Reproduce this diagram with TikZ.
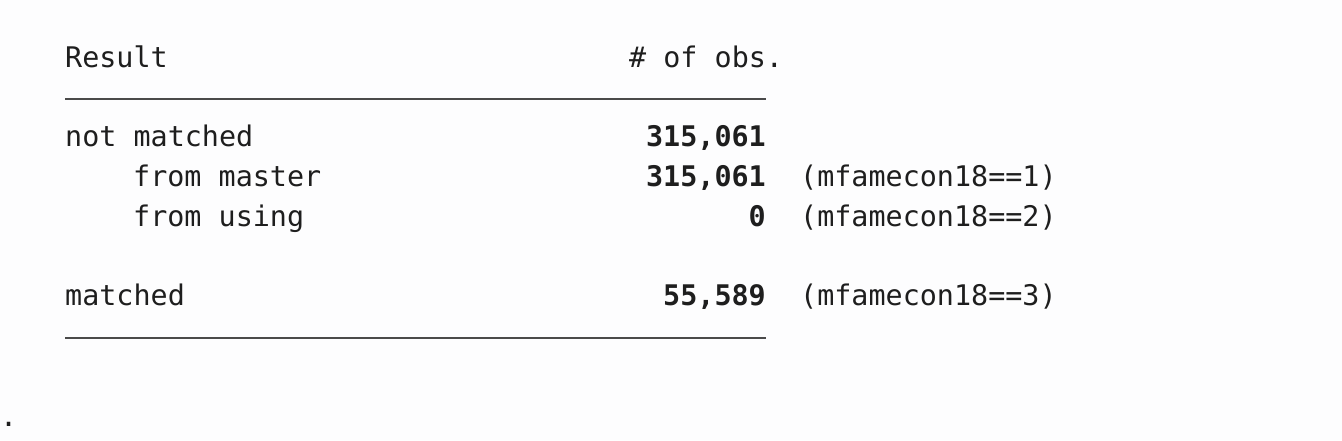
\documentclass[tikz,border=0pt]{standalone}
\usepackage{fontspec}
\setmonofont{DejaVu Sans Mono}
\usetikzlibrary{positioning}
\definecolor{ink}{HTML}{1E1E1E}
\definecolor{rulegray}{HTML}{4A4A4A}
\definecolor{paper}{HTML}{FDFDFE}
\newcommand{\tabfont}{\ttfamily\fontsize{28.4}{34}\selectfont}
\tikzset{
  cell/.style={anchor=base west, inner sep=0pt, text=ink, font=\tabfont},
  count/.style={anchor=base east, inner sep=0pt, text=ink, font=\tabfont\bfseries},
  tabrule/.style={draw=rulegray, line width=2.6pt}
}

\begin{document}
\begin{tikzpicture}[x=1pt, y=-1pt]
\fill[paper] (0,0) rectangle (1342,440);
\useasboundingbox (0,0) rectangle (1342,440);
% Header
\node[cell] (result) at (65,67) {Result};
\node[cell] (nobs) at (629,67) {\# of obs.};
\coordinate (topl) at (65,99);
\coordinate (topr) at (766,99);
\draw[tabrule] (topl) -- (topr);
% Not matched block
\node[cell] (notm) at (65,146) {not matched};
\node[count] (notmn) at (766,146) {315,061};
\node[cell] (master) at (133,186) {from master};
\node[count] (mastern) at (766,186) {315,061};
\node[cell] (masterc) at (800,186) {(mfamecon18==1)};
\node[cell] (using) at (133,226) {from using};
\node[count] (usingn) at (766,226) {0};
\node[cell] (usingc) at (800,226) {(mfamecon18==2)};
% Matched
\node[cell] (match) at (65,305) {matched};
\node[count] (matchn) at (766,305) {55,589};
\node[cell] (matchc) at (800,305) {(mfamecon18==3)};
\coordinate (botl) at (65,338);
\coordinate (botr) at (766,338);
\draw[tabrule, line width=2.2pt] (botl) -- (botr);
% Prompt
\node[cell] (prompt) at (0,426) {.};
\end{tikzpicture}
\end{document}
